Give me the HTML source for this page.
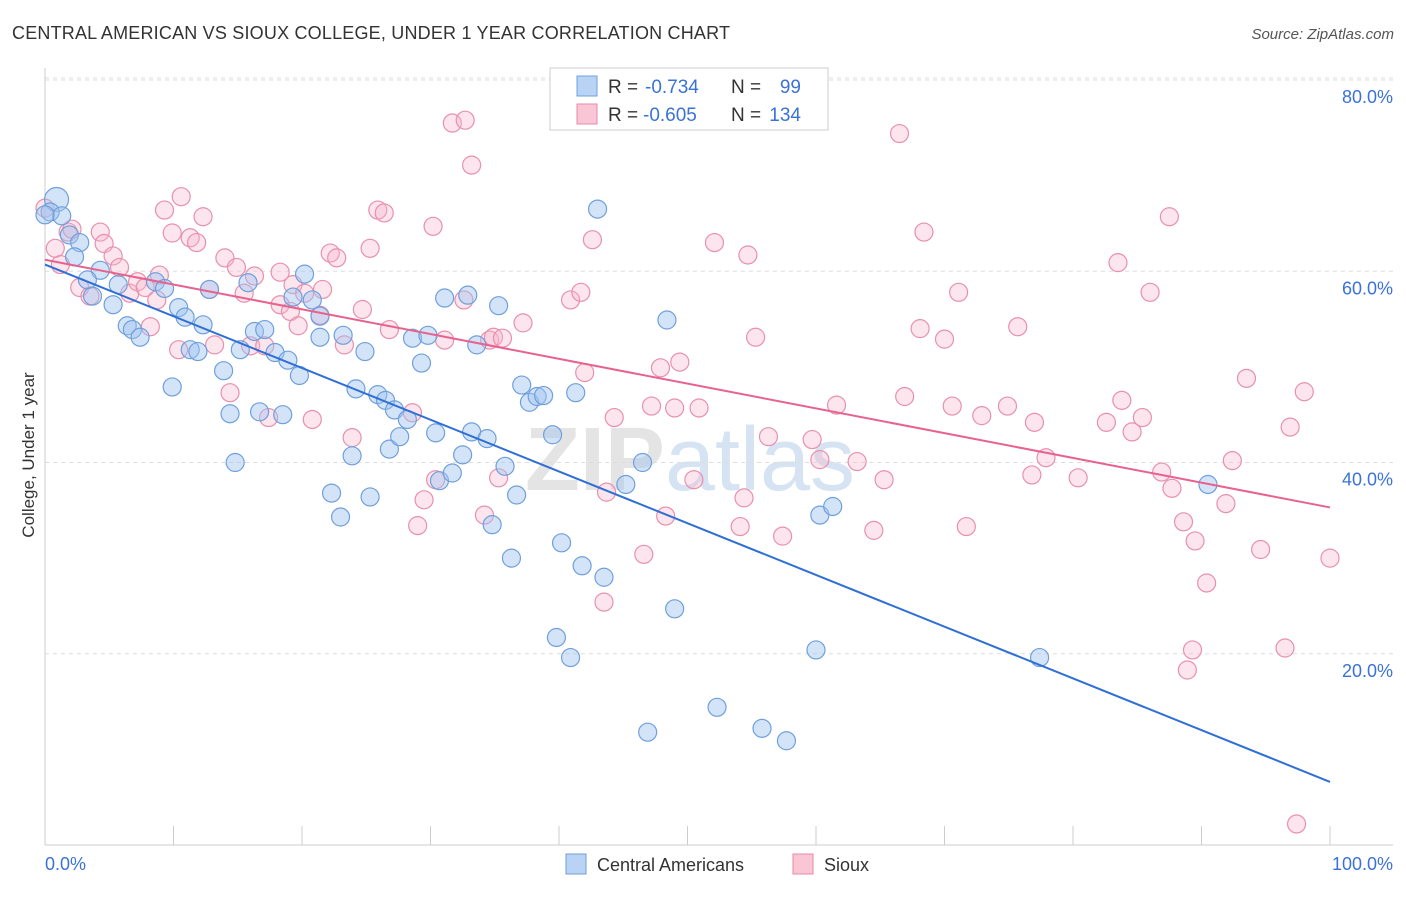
<!DOCTYPE html>
<html><head><meta charset="utf-8"><style>
body{margin:0;background:#fff;font-family:"Liberation Sans",sans-serif;}
svg text{font-family:"Liberation Sans",sans-serif;}
</style></head><body>
<svg id="chart" width="1406" height="892" xmlns="http://www.w3.org/2000/svg">
<text x="12" y="39" font-size="18" fill="#333" textLength="718">CENTRAL AMERICAN VS SIOUX COLLEGE, UNDER 1 YEAR CORRELATION CHART</text>
<text x="1394" y="39" font-size="15" fill="#555" text-anchor="end" font-style="italic">Source: ZipAtlas.com</text>
<text x="690" y="490" font-size="90" fill="#e4e4e4" text-anchor="middle" font-family="Liberation Serif" font-weight="bold">ZIP<tspan fill="#d6e3f2" font-family="Liberation Sans" font-weight="normal">atlas</tspan></text>
<g id="grid"></g><g id="axes"></g><g id="points"></g><g id="lines"></g>
<text transform="translate(34,455) rotate(-90)" font-size="17" fill="#333" text-anchor="middle">College, Under 1 year</text>
<g>
<rect x="550" y="68" width="278" height="62" fill="#fff" stroke="#ccc"/>
<rect x="577" y="76" width="20" height="20" fill="#b8d3f4" stroke="#6fa0dc"/>
<rect x="577" y="104" width="20" height="20" fill="#f9c6d6" stroke="#e88aaa"/>
<text x="608" y="93" font-size="19" fill="#333">R =</text>
<text x="645" y="93" font-size="19" fill="#3a72d8">-0.734</text>
<text x="731" y="93" font-size="19" fill="#333">N =</text>
<text x="801" y="93" font-size="19" fill="#3a72d8" text-anchor="end">99</text>
<text x="608" y="121" font-size="19" fill="#333">R =</text>
<text x="643" y="121" font-size="19" fill="#3a72d8">-0.605</text>
<text x="731" y="121" font-size="19" fill="#333">N =</text>
<text x="801" y="121" font-size="19" fill="#3a72d8" text-anchor="end">134</text>
</g>
<g>
<rect x="566" y="854" width="20" height="20" fill="#b8d3f4" stroke="#6fa0dc"/>
<text x="597" y="871" font-size="18" fill="#333">Central Americans</text>
<rect x="793" y="854" width="20" height="20" fill="#f9c6d6" stroke="#e88aaa"/>
<text x="824" y="871" font-size="18" fill="#333">Sioux</text>
</g>
</svg>
<script>
const blueX=[0.9,0.4,1.3,1.9,2.7,2.3,4.3,3.3,3.7,5.7,5.3,6.4,6.8,7.4,8.6,9.3,10.4,10.9,12.3,11.3,11.9,9.9,12.8,13.9,14.4,14.8,15.2,16.3,15.8,17.1,17.9,18.9,16.7,18.5,19.3,20.2,20.8,21.4,19.8,21.4,23.2,22.3,23.0,23.9,24.2,24.9,25.3,25.9,26.5,27.2,26.8,27.6,28.2,28.6,29.8,29.3,30.4,31.1,30.7,31.7,32.5,32.9,33.2,33.6,34.4,34.8,35.3,35.8,36.3,36.7,37.1,37.7,38.3,38.8,39.5,39.8,40.2,40.9,41.3,41.8,43.0,43.5,45.2,46.5,46.9,48.4,49.0,52.3,55.8,57.7,60.0,60.3,61.3,77.4,90.5,0];
const blueY=[67.5,66.2,65.8,63.8,63.0,61.5,60.1,59.1,57.4,58.6,56.5,54.3,53.9,53.1,58.9,58.2,56.2,55.2,54.4,51.8,51.6,47.9,58.1,49.6,45.1,40.0,51.8,53.7,58.8,53.9,51.5,50.7,45.3,45.0,57.3,59.7,57.0,55.3,49.1,53.1,53.3,36.8,34.3,40.7,47.7,51.6,36.4,47.1,46.5,45.5,41.4,42.7,44.5,53.0,53.3,50.4,43.1,57.2,38.1,38.9,40.8,57.5,43.2,52.3,42.5,33.5,56.4,39.6,30.0,36.6,48.1,46.3,46.9,47.0,42.9,21.7,31.6,19.6,47.3,29.2,66.5,28.0,37.7,40.0,11.8,54.9,24.7,14.4,12.2,10.9,20.4,34.5,35.4,19.6,37.7,65.9];
const pinkX=[0.8,1.2,1.8,2.1,2.7,3.5,4.3,4.6,5.3,5.8,6.6,7.2,8.2,7.8,8.7,8.9,9.3,9.9,10.6,10.4,11.3,11.8,12.3,12.8,13.2,14.0,14.4,14.9,15.5,16.0,16.3,17.1,17.4,18.3,18.3,19.1,19.3,19.7,20.2,20.8,21.4,21.6,22.2,22.7,23.3,23.9,24.7,25.3,25.9,26.4,26.8,28.6,29.0,29.5,30.2,30.4,31.1,31.7,32.7,33.2,32.6,34.2,34.6,34.9,35.6,35.3,37.2,40.9,41.7,42.0,42.6,43.5,43.7,44.3,46.6,47.9,47.2,48.3,49.0,49.4,50.5,50.9,52.1,54.1,54.4,54.7,55.3,56.3,57.4,59.7,60.3,61.6,63.2,64.5,65.3,66.5,66.9,68.1,68.4,70.0,70.6,71.1,71.7,72.9,74.9,75.7,77.0,77.9,76.8,80.4,82.6,83.5,83.8,84.6,85.4,86.0,86.9,87.5,87.7,88.6,89.5,88.9,89.3,90.4,91.9,92.4,93.5,94.6,96.9,96.5,98.0,100,97.4,0];
const pinkY=[62.4,60.7,64.1,64.4,58.3,57.4,64.1,62.9,61.6,60.4,57.7,58.9,54.2,58.3,57.0,59.6,66.4,64.0,67.8,51.8,63.5,63.0,65.7,58.1,52.3,61.4,47.3,60.4,57.7,52.2,59.5,52.2,44.7,56.5,59.9,55.8,58.6,54.3,57.7,44.5,55.4,58.1,61.9,61.4,52.3,42.6,56.0,62.4,66.4,66.1,53.9,45.2,33.4,36.1,64.7,38.2,52.8,75.5,75.8,71.1,57.0,34.5,52.8,53.1,53.0,38.4,54.6,57.0,57.8,49.4,63.3,25.4,36.9,44.7,30.4,49.9,45.9,34.4,45.7,50.5,38.2,45.7,63.0,33.3,36.3,61.7,53.1,42.7,32.3,42.4,40.3,46.0,40.1,32.9,38.2,74.4,46.9,54.0,64.1,52.9,45.9,57.8,33.3,44.9,45.9,54.2,44.2,40.5,38.7,38.4,44.2,60.9,46.5,43.2,44.7,57.8,39.0,65.7,37.3,33.8,31.8,18.3,20.4,27.4,35.7,40.2,48.8,30.9,43.7,20.6,47.4,30.0,2.2,66.6];
const blueLine=[60.7,6.6];
const pinkLine=[61.2,35.3];
const yTicks=[20,40,60,80];
const xTicks=[0,10,20,30,40,50,60,70,80,90,100];
const NS="http://www.w3.org/2000/svg";
const X=v=>45+v*12.85, Y=v=>845-v*9.5625;
function mk(tag,attrs,parent){const e=document.createElementNS(NS,tag);for(const k in attrs)e.setAttribute(k,attrs[k]);parent.appendChild(e);return e;}
const grid=document.getElementById('grid'),axes=document.getElementById('axes'),pts=document.getElementById('points'),lines=document.getElementById('lines');
yTicks.forEach(t=>{
 const l=mk('line',{x1:45,x2:1393,y1:Y(t),y2:Y(t),stroke:'#ddd','stroke-dasharray':'4,4'},grid);
 
 
 const tx=mk('text',{x:1393,y:Y(t)+23,'font-size':18,fill:'#3a72d8','text-anchor':'end'},axes);
 tx.textContent=t.toFixed(1)+'%';
 
 
});
const topGrid=mk('line',{x1:45,x2:1393,y1:78,y2:78,stroke:'#ddd','stroke-dasharray':'4,4'},grid);


const ya=mk('line',{x1:45,x2:45,y1:68,y2:845,stroke:'#ccc'},axes);


const xa=mk('line',{x1:45,x2:1393,y1:845,y2:845,stroke:'#ccc'},axes);


xTicks.forEach(t=>{
 const l=mk('line',{x1:X(t),x2:X(t),y1:826,y2:845,stroke:'#ccc'},axes);
 
 
});
[[0,'0.0%',45,'start'],[100,'100.0%',1393,'end']].forEach(a=>{
 const tx=mk('text',{x:a[2],y:870,'font-size':18,fill:'#3a72d8','text-anchor':a[3]},axes);
 tx.textContent=a[1];
 
 
});
function drawPts(xs,ys,fill,stroke,name){
 xs.forEach((v,i)=>{
  const big=(i===0&&name==='blue-point');
  const c=mk('circle',{cx:X(v),cy:Y(ys[i]),r:big?12:9,fill:fill,stroke:stroke,'stroke-width':1.2},pts);
  
  
 });
}
drawPts(pinkX,pinkY,'rgba(246,180,202,0.35)','#e890ae','sioux-point');
drawPts(blueX,blueY,'rgba(160,196,240,0.45)','#6fa0dc','blue-point');
const bl=mk('line',{x1:X(0),y1:Y(blueLine[0]),x2:X(100),y2:Y(blueLine[1]),stroke:'#2f6fd6','stroke-width':2},lines);


const pl=mk('line',{x1:X(0),y1:Y(pinkLine[0]),x2:X(100),y2:Y(pinkLine[1]),stroke:'#e8628e','stroke-width':2},lines);


</script>
</body></html>
